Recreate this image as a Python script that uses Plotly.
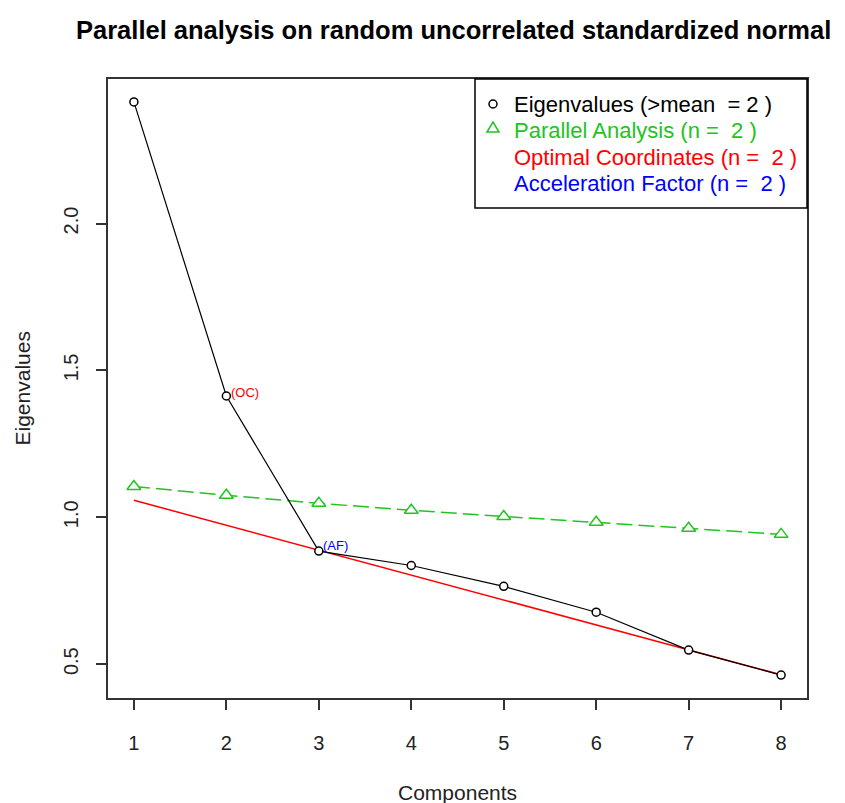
import plotly.graph_objects as go

# values
components = [1, 2, 3, 4, 5, 6, 7, 8]
eigenvalues = [2.414, 1.413, 0.885, 0.836, 0.765, 0.677, 0.548, 0.463]
parallel = [1.105, 1.075, 1.048, 1.024, 1.003, 0.983, 0.963, 0.942]
optimal_coord = [1.058, 0.973, 0.888, 0.804, 0.719, 0.634, 0.549, 0.464]

legend_labels = ["Eigenvalues (>mean  = 2 )", "Parallel Analysis (n =  2 )",
                 "Optimal Coordinates (n =  2 )", "Acceleration Factor (n =  2 )"]
legend_colors = ["black", "#22c322", "red", "blue"]

GREEN = "#22c322"
FONT = "Liberation Sans, Arial, sans-serif"

# page has an 8px body margin, so work in shifted pixel coords
OFF = 8
FW, FH = 845 - OFF, 803 - OFF
L, R, T, B = 108, 807, 79, 698
W, H = R - L, B - T
def px(x): return (x - L) / W
def py(y): return (B - y) / H

fig = go.Figure()

fig.add_trace(go.Scatter(
    x=components, y=optimal_coord, mode="lines",
    line=dict(color="red", width=1.5), showlegend=False))

fig.add_trace(go.Scatter(
    x=components, y=parallel, mode="lines+markers",
    line=dict(color=GREEN, width=1.5, dash="16px,6px"),
    marker=dict(symbol="triangle-up", size=12, color="white",
                line=dict(color=GREEN, width=1.5)),
    showlegend=False))

fig.add_trace(go.Scatter(
    x=components, y=eigenvalues, mode="lines+markers",
    line=dict(color="black", width=1.2),
    marker=dict(symbol="circle", size=8, color="white",
                line=dict(color="black", width=1.5)),
    showlegend=False))

# point labels
fig.add_annotation(x=components[1], y=eigenvalues[1], text="(OC)", showarrow=False,
                   xanchor="left", yanchor="middle", xshift=3, yshift=3,
                   font=dict(color="red", size=13, family=FONT))
fig.add_annotation(x=components[2], y=eigenvalues[2], text="(AF)", showarrow=False,
                   xanchor="left", yanchor="middle", xshift=2, yshift=6,
                   font=dict(color="blue", size=13, family=FONT))

# manual legend (R style, coloured text)
fig.add_shape(type="rect", xref="paper", yref="paper",
              x0=px(475), x1=1.0, y0=py(208), y1=1.0,
              line=dict(color="black", width=1.5), fillcolor="white", layer="above")
rows = [104, 130, 157, 183]
for lab, col, ry in zip(legend_labels, legend_colors, rows):
    fig.add_annotation(xref="paper", yref="paper", x=px(512), y=py(ry), text=lab,
                       showarrow=False, xanchor="left", yanchor="middle",
                       font=dict(color=col, size=22, family=FONT))
fig.add_shape(type="circle", xref="paper", yref="paper",
              x0=px(489), x1=px(497), y0=py(108), y1=py(100),
              line=dict(color="black", width=1.5), layer="above")
fig.add_shape(type="path", xref="paper", yref="paper",
              path=f"M {px(487)},{py(132)} L {px(499)},{py(132)} L {px(493)},{py(122)} Z",
              line=dict(color=GREEN, width=1.5), layer="above")

# axis titles
fig.add_annotation(xref="paper", yref="paper", x=0.5, y=py(792), text="Components",
                   showarrow=False, xanchor="center", yanchor="middle",
                   font=dict(size=21, color="#222", family=FONT))
fig.add_annotation(xref="paper", yref="paper", x=px(22), y=0.5, text="Eigenvalues",
                   showarrow=False, textangle=-90, xanchor="center", yanchor="middle",
                   font=dict(size=21, color="#222", family=FONT))

# title as annotation so it can run past the plot edges
fig.add_annotation(xref="paper", yref="paper", x=px(453), y=py(30),
                   text="<b>Parallel analysis on random uncorrelated standardized normal</b>",
                   showarrow=False, xanchor="center", yanchor="middle",
                   font=dict(size=25.5, color="black", family=FONT))

fig.update_layout(
    width=FW, height=FH,
    margin=dict(l=L - OFF, r=845 - R, t=T - OFF, b=803 - B),
    plot_bgcolor="white", paper_bgcolor="white",
    font=dict(family=FONT, color="#222"),
    showlegend=False,
)

fig.update_xaxes(range=[0.72, 8.28], tickvals=components, ticks="outside", ticklen=10,
                 tickwidth=1.5, tickcolor="#333", showline=True, mirror=True,
                 linecolor="#333", linewidth=1.5, showgrid=False, zeroline=False,
                 tickfont=dict(size=20, color="#222"), ticklabelstandoff=16)
fig.update_yaxes(range=[0.385, 2.492], tickvals=[0.5, 1.0, 1.5, 2.0],
                 ticktext=["0.5", "1.0", "1.5", "2.0"], tickangle=-90,
                 ticks="outside", ticklen=10, tickwidth=1.5, tickcolor="#333",
                 showline=True, mirror=True, linecolor="#333", linewidth=1.5,
                 showgrid=False, zeroline=False,
                 tickfont=dict(size=20, color="#222"), ticklabelstandoff=10)

fig.write_html("out.html")
